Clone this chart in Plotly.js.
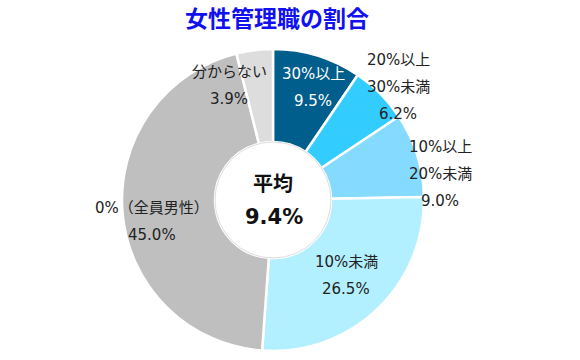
<!DOCTYPE html>
<html>
<head>
<meta charset="utf-8">
<script src="https://cdn.plot.ly/plotly-3.0.1.min.js"></script>
<style>html,body{margin:0;padding:0;background:#fff;}#chart{width:580px;height:360px;}</style>
</head>
<body>
<div id="chart"></div>
<script>
const categories = ["30%以上", "20%以上30%未満", "10%以上20%未満", "10%未満", "0%（全員男性）", "分からない"];
const labelLines = [["30%以上"], ["20%以上", "30%未満"], ["10%以上", "20%未満"], ["10%未満"], ["0%（全員男性）"], ["分からない"]];
const values = [9.5, 6.2, 9.0, 26.5, 45.0, 3.9];
const colors = ["#005E8C", "#33CCFF", "#85DBFF", "#B3F0FF", "#BFBFBF", "#DDDDDD"];
const textColors = ["#ffffff", "#222222", "#222222", "#222222", "#222222", "#222222"];
const averageLabel = "平均";
const averageValue = "9.4%";
const titleText = "女性管理職の割合";

// label anchor positions (pixels in 580x360 canvas): [x, y of first line]
const labelPos = [[313, 74], [398, 60], [440, 147], [346, 262], [152, 208], [229, 72]];
const lineGap = 27;

const W = 580, H = 360;
const font = "DejaVu Sans, Noto Sans CJK JP, sans-serif";
const cjkFont = "Noto Sans CJK JP, sans-serif";
const annotations = [];
labelLines.forEach((lines, i) => {
  const [px, py] = labelPos[i];
  const all = lines.concat([values[i].toFixed(1) + "%"]);
  all.forEach((t, j) => {
    annotations.push({
      x: px / W, y: 1 - (py + j * lineGap) / H, xref: "paper", yref: "paper",
      text: t, showarrow: false, xanchor: "center", yanchor: "middle",
      font: {family: font, size: 15, color: textColors[i]}
    });
  });
});
annotations.push({x: 273 / W, y: 1 - 182 / H, xref: "paper", yref: "paper", text: "<b>" + averageLabel + "</b>",
  showarrow: false, font: {family: cjkFont, size: 20, color: "#111"}});
annotations.push({x: 274 / W, y: 1 - 217 / H, xref: "paper", yref: "paper", text: "<b>" + averageValue + "</b>",
  showarrow: false, font: {family: font, size: 21, color: "#111"}});

const cx = 273, cy = 200, R = 151, r = 58;
const data = [{
  type: "pie",
  labels: categories,
  values: values,
  sort: false,
  direction: "clockwise",
  rotation: 0,
  hole: r / R,
  textinfo: "none",
  hoverinfo: "label+percent",
  marker: {colors: colors, line: {color: "#ffffff", width: 2.5}},
  domain: {x: [(cx - R) / W, (cx + R) / W], y: [1 - (cy + R) / H, 1 - (cy - R) / H]},
  showlegend: false
}];

const layout = {
  width: W, height: H,
  margin: {l: 0, r: 0, t: 0, b: 0},
  paper_bgcolor: "#ffffff",
  title: {text: "<b>" + titleText + "</b>", x: 277 / W, xanchor: "center", y: 1 - 19 / H, yanchor: "middle",
    font: {family: cjkFont, size: 23, color: "#1010F0"}},
  annotations: annotations,
  shapes: [{type: "circle", xref: "paper", yref: "paper",
    x0: (cx - r) / W, x1: (cx + r) / W, y0: 1 - (cy + r) / H, y1: 1 - (cy - r) / H,
    line: {color: "#dddddd", width: 1}}]
};

Plotly.newPlot("chart", data, layout, {displayModeBar: false, staticPlot: true});
</script>
</body>
</html>
